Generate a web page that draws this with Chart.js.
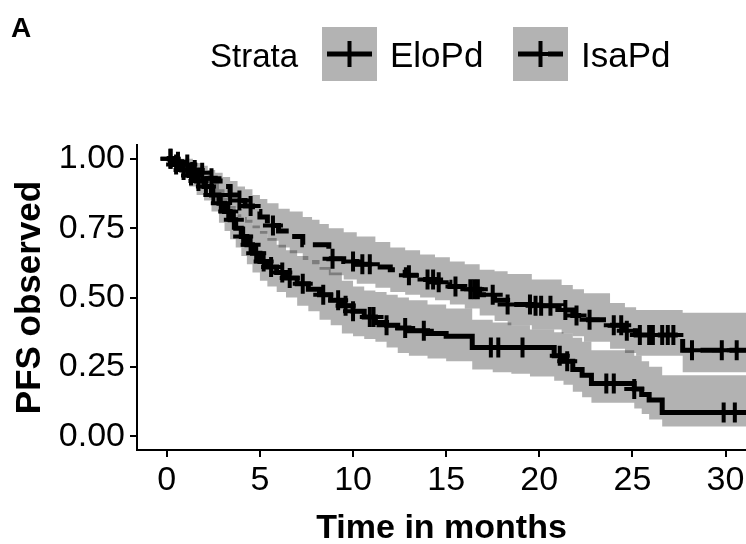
<!DOCTYPE html>
<html>
<head>
<meta charset="utf-8">
<script src="https://cdn.jsdelivr.net/npm/chart.js@4.4.1/dist/chart.umd.min.js"></script>
<style>
  html, body { margin: 0; padding: 0; background: #fff; }
  canvas { display: block; }
</style>
</head>
<body>
<canvas id="km" width="746" height="544"></canvas>
<script>
// Kaplan-Meier estimates (time in months, PFS fraction)
const eloTime  = [0, 0.4, 0.8, 1.2, 1.6, 2.0, 2.4, 2.8, 3.1, 3.4, 3.7, 4.0, 4.3, 4.6, 5.0, 5.4, 5.9, 6.4, 7.0, 7.6, 8.2, 8.8, 9.4, 10.0, 10.6, 11.2, 11.8, 12.4, 13.0, 14.0, 15.0, 16.4, 17.5, 18.5, 19.5, 20.8, 21.3, 21.8, 22.3, 22.8, 25.1, 25.5, 25.9, 26.6, 31.5];
const eloSurv  = [1.00, 0.98, 0.96, 0.94, 0.92, 0.90, 0.87, 0.84, 0.81, 0.78, 0.75, 0.72, 0.69, 0.66, 0.63, 0.61, 0.59, 0.57, 0.55, 0.53, 0.51, 0.49, 0.47, 0.45, 0.43, 0.41, 0.40, 0.39, 0.38, 0.37, 0.36, 0.32, 0.32, 0.32, 0.32, 0.29, 0.27, 0.24, 0.22, 0.19, 0.17, 0.15, 0.13, 0.085, 0.085];
const eloLower = [1.00, 0.96, 0.93, 0.90, 0.87, 0.85, 0.81, 0.77, 0.74, 0.71, 0.68, 0.65, 0.62, 0.59, 0.56, 0.54, 0.52, 0.50, 0.47, 0.45, 0.42, 0.40, 0.37, 0.36, 0.35, 0.34, 0.32, 0.30, 0.29, 0.28, 0.27, 0.24, 0.23, 0.225, 0.215, 0.20, 0.185, 0.16, 0.14, 0.12, 0.10, 0.08, 0.06, 0.035, 0.035];
const eloUpper = [1.00, 1.00, 0.99, 0.98, 0.96, 0.94, 0.92, 0.89, 0.86, 0.83, 0.80, 0.79, 0.78, 0.76, 0.74, 0.715, 0.69, 0.67, 0.65, 0.635, 0.61, 0.59, 0.56, 0.54, 0.525, 0.52, 0.51, 0.50, 0.49, 0.475, 0.46, 0.42, 0.41, 0.40, 0.385, 0.375, 0.37, 0.355, 0.34, 0.31, 0.29, 0.27, 0.25, 0.22, 0.22];
const eloCensor = [0.2, 0.5, 0.9, 1.3, 1.7, 2.1, 2.5, 2.9, 3.3, 3.6, 4.1, 4.5, 4.8, 5.2, 5.6, 6.2, 6.6, 7.3, 8.4, 9.2, 9.6, 10.0, 10.9, 11.1, 11.8, 12.8, 13.8, 17.4, 17.8, 19.1, 21.1, 21.5, 23.6, 24.0, 25.1, 29.9, 30.5];

const isaTime  = [0, 0.5, 1.0, 1.4, 1.8, 2.2, 2.6, 3.0, 3.4, 3.8, 4.2, 4.6, 5.0, 5.4, 6.0, 6.6, 7.3, 7.8, 8.2, 8.7, 9.5, 10.2, 11.2, 12.0, 12.8, 13.6, 14.4, 15.2, 16.0, 16.8, 17.6, 18.3, 19.6, 21.2, 21.8, 22.4, 23.8, 24.6, 25.2, 27.7, 31.5];
const isaSurv  = [1.00, 0.99, 0.98, 0.96, 0.95, 0.93, 0.92, 0.90, 0.87, 0.85, 0.83, 0.81, 0.79, 0.76, 0.74, 0.72, 0.69, 0.69, 0.69, 0.64, 0.63, 0.62, 0.61, 0.60, 0.58, 0.565, 0.555, 0.54, 0.53, 0.51, 0.49, 0.475, 0.47, 0.455, 0.435, 0.42, 0.40, 0.38, 0.365, 0.31, 0.31];
const isaLower = [1.00, 0.97, 0.95, 0.93, 0.91, 0.89, 0.87, 0.85, 0.82, 0.79, 0.77, 0.75, 0.73, 0.705, 0.68, 0.66, 0.635, 0.62, 0.60, 0.58, 0.565, 0.55, 0.535, 0.52, 0.51, 0.50, 0.49, 0.475, 0.46, 0.435, 0.415, 0.40, 0.385, 0.37, 0.36, 0.34, 0.315, 0.30, 0.29, 0.23, 0.23];
const isaUpper = [1.00, 1.00, 1.00, 0.985, 0.975, 0.96, 0.95, 0.935, 0.92, 0.90, 0.89, 0.87, 0.855, 0.84, 0.82, 0.81, 0.79, 0.78, 0.765, 0.75, 0.735, 0.72, 0.70, 0.68, 0.67, 0.655, 0.645, 0.63, 0.62, 0.60, 0.595, 0.585, 0.565, 0.545, 0.53, 0.515, 0.48, 0.465, 0.455, 0.445, 0.445];
const isaCensor = [0.2, 0.6, 1.1, 1.5, 1.9, 2.4, 3.4, 3.9, 4.5, 5.7, 8.9, 10.0, 10.5, 10.9, 13.0, 14.0, 14.3, 14.6, 15.5, 16.3, 16.5, 16.7, 17.5, 18.3, 19.5, 19.8, 20.1, 20.6, 21.4, 22.0, 22.7, 24.0, 24.4, 24.7, 25.4, 25.9, 26.1, 26.6, 26.9, 27.2, 28.2, 29.8, 30.6];

const strataNames = ['EloPd', 'IsaPd'];
const xTicks = [0, 5, 10, 15, 20, 25, 30];
const yTicks = [0, 0.25, 0.5, 0.75, 1];
const yTickLabels = ['0.00', '0.25', '0.50', '0.75', '1.00'];

const FONT = '"Liberation Sans", Arial, Helvetica, sans-serif';
const BAND = 'rgba(0,0,0,0.3)';
const ISA_DASH = [20, 9];

function toXY(times, values) {
    return times.map((t, i) => ({x: t, y: values[i]}));
}

// step value of a KM curve at time t (puts the censor marks on the curve)
function survAt(times, surv, t) {
    let v = surv[0];
    for (let i = 0; i < times.length; i++) {
        if (times[i] <= t) v = surv[i];
    }
    return v;
}

function censorPoints(cens, times, surv) {
    return cens.map(t => ({x: t, y: survAt(times, surv, t)}));
}

const stepLine = (data, dash) => ({
    data: data,
    stepped: true,
    borderColor: '#000',
    borderWidth: 5,
    borderDash: dash,
    pointRadius: 0,
    fill: false,
});

const censorSet = (data) => ({
    data: data,
    showLine: false,
    pointStyle: 'cross',
    pointRadius: 10,
    pointBorderWidth: 4,
    pointBorderColor: '#000',
    pointBackgroundColor: '#000',
    fill: false,
});

const bandEdge = (data, fill) => ({
    data: data,
    stepped: true,
    borderColor: 'rgba(0,0,0,0)',
    borderWidth: 0,
    pointRadius: 0,
    backgroundColor: BAND,
    fill: fill,
});

const legendPlugin = {
    id: 'strataLegend',
    afterDraw(chart) {
        const ctx = chart.ctx;
        ctx.save();
        ctx.fillStyle = '#000';
        ctx.textBaseline = 'alphabetic';
        ctx.font = 'bold 28px ' + FONT;
        ctx.fillText('A', 11, 37);

        ctx.font = '33px ' + FONT;
        ctx.fillText('Strata', 210, 67);

        const boxX = [322, 513];
        strataNames.forEach((name, i) => {
            const bx = boxX[i];
            ctx.fillStyle = '#b3b3b3';
            ctx.fillRect(bx, 27, 55, 54);

            ctx.strokeStyle = '#000';
            ctx.lineWidth = 5;
            ctx.setLineDash(i === 1 ? [22, 8] : []);
            ctx.beginPath();
            ctx.moveTo(bx + 5, 54);
            ctx.lineTo(bx + 50, 54);
            ctx.stroke();
            ctx.setLineDash([]);

            ctx.lineWidth = 4;
            ctx.beginPath();
            ctx.moveTo(bx + 27.5, 41);
            ctx.lineTo(bx + 27.5, 67);
            ctx.moveTo(bx + 16, 54);
            ctx.lineTo(bx + 39, 54);
            ctx.stroke();

            ctx.fillStyle = '#000';
            ctx.font = '35px ' + FONT;
            ctx.fillText(name, bx + 68, 67);
        });
        ctx.restore();
    }
};

const ctx = document.getElementById('km').getContext('2d');

new Chart(ctx, {
    type: 'line',
    data: {
        datasets: [
            stepLine(toXY(eloTime, eloSurv), []),
            stepLine(toXY(isaTime, isaSurv), ISA_DASH),
            censorSet(censorPoints(eloCensor, eloTime, eloSurv)),
            censorSet(censorPoints(isaCensor, isaTime, isaSurv)),
            bandEdge(toXY(eloTime, eloUpper), false),
            bandEdge(toXY(eloTime, eloLower), 4),
            bandEdge(toXY(isaTime, isaUpper), false),
            bandEdge(toXY(isaTime, isaLower), 6),
        ]
    },
    plugins: [legendPlugin],
    options: {
        responsive: false,
        animation: false,
        layout: {
            autoPadding: false,
            padding: {top: 145, right: 0, bottom: 0, left: 0}
        },
        plugins: {
            legend: {display: false},
            tooltip: {enabled: false},
            filler: {drawTime: 'beforeDatasetsDraw'}
        },
        scales: {
            x: {
                type: 'linear',
                min: -1.6,
                max: 31.1,
                afterBuildTicks: (scale) => {
                    scale.ticks = xTicks.map(v => ({value: v}));
                },
                afterFit: (scale) => {
                    scale.height = 94;
                    scale.paddingLeft = 0;
                    scale.paddingRight = 0;
                },
                grid: {
                    drawOnChartArea: false,
                    color: '#000',
                    lineWidth: 2,
                    tickLength: 7
                },
                border: {display: true, color: '#000', width: 2},
                ticks: {
                    color: '#000',
                    padding: 3,
                    maxRotation: 0,
                    font: {family: FONT, size: 34}
                },
                title: {
                    display: true,
                    text: 'Time in months',
                    color: '#000',
                    padding: {top: 0, bottom: 0},
                    font: {family: FONT, size: 34, weight: 'bold', lineHeight: 0.9}
                }
            },
            y: {
                type: 'linear',
                min: -0.05,
                max: 1.05,
                afterBuildTicks: (scale) => {
                    scale.ticks = yTicks.map(v => ({value: v}));
                },
                afterFit: (scale) => {
                    scale.width = 137;
                },
                grid: {
                    drawOnChartArea: false,
                    color: '#000',
                    lineWidth: 2,
                    tickLength: 7
                },
                border: {display: true, color: '#000', width: 2},
                ticks: {
                    color: '#000',
                    padding: 5,
                    font: {family: FONT, size: 34},
                    callback: (value) => yTickLabels[yTicks.indexOf(value)]
                },
                title: {
                    display: true,
                    text: 'PFS observed',
                    color: '#000',
                    padding: {top: 9, bottom: 0},
                    font: {family: FONT, size: 35, weight: 'bold'}
                }
            }
        }
    }
});
</script>
</body>
</html>
